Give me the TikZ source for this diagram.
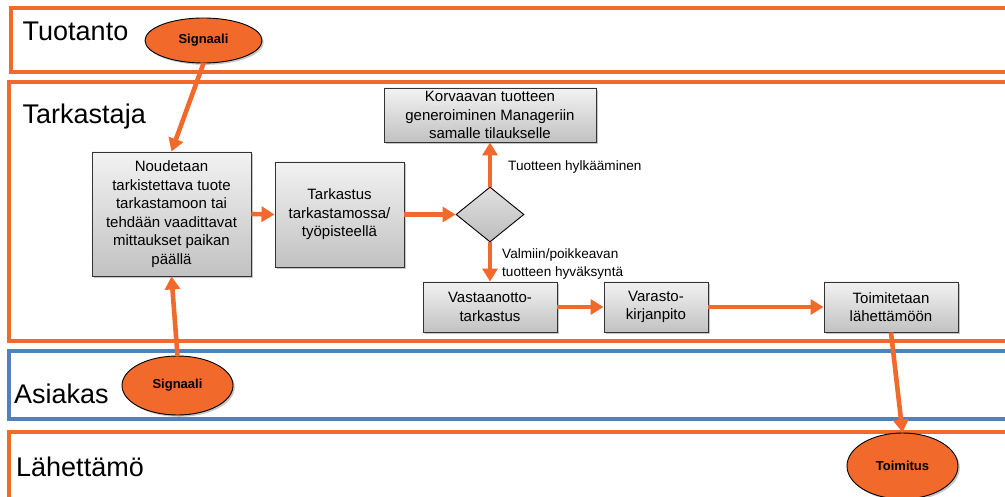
\documentclass[tikz,border=0pt]{standalone}
\usepackage{fontspec}
\setmainfont{Liberation Sans}
\usetikzlibrary{shapes.geometric,shadows,arrows.meta}
\definecolor{laneorange}{HTML}{F26A2B}
\definecolor{laneblue}{HTML}{4F81BD}
\begin{document}
\begin{tikzpicture}[x=1pt,y=-1pt,
  lane/.style={draw=laneorange,line width=3.2pt},
  bluelane/.style={draw=laneblue,line width=3.2pt},
  lanetitle/.style={anchor=base west,inner sep=0,font=\fontsize{27}{30}\selectfont},
  procbox/.style={draw=black!80,line width=0.9pt,rectangle,inner sep=0,align=center,
    top color=white!95!black,bottom color=white!76!black,
    drop shadow={shadow xshift=1.8pt,shadow yshift=-1.8pt,opacity=0.45},
    font=\fontsize{15}{18.5}\selectfont},
  decision/.style={draw=black,line width=0.9pt,diamond,inner sep=0,
    top color=white!88!black,bottom color=white!74!black},
  signal/.style={ellipse,draw=black,line width=0.9pt,fill=laneorange,inner sep=0,
    drop shadow={shadow xshift=1.8pt,shadow yshift=-1.8pt,opacity=0.45},
    font=\fontsize{13}{15}\selectfont\bfseries},
  flow/.style={draw=laneorange,line width=4.6pt,-{Triangle[length=13pt,width=15pt]}},
  flowlabel/.style={anchor=west,inner sep=0,align=left,font=\fontsize{13.6}{17.5}\selectfont}
]
\useasboundingbox (0,0) rectangle (1005,497);
\clip (0,0) rectangle (1005,497);

% swim lanes
\draw[lane] (11,8) rectangle (1020,72);
\draw[lane] (9,82) rectangle (1020,341);
\draw[bluelane] (9,351) rectangle (1020,419);
\draw[lane] (9,432) rectangle (1020,520);

\node[lanetitle] (tTuotanto) at (22.5,41) {Tuotanto};
\node[lanetitle] (tTarkastaja) at (22.5,124) {Tarkastaja};
\node[lanetitle] (tAsiakas) at (14,403) {Asiakas};
\node[lanetitle] (tLahettamo) at (16,476) {Lähettämö};

% process steps
\node[procbox,minimum width=159,minimum height=124] (nouto) at (171.5,214)
  {Noudetaan\\tarkistettava tuote\\tarkastamoon tai\\tehdään vaadittavat\\mittaukset paikan\\päällä};
\node[procbox,minimum width=129,minimum height=105] (tarkastus) at (339.5,214.5)
  {Tarkastus\\tarkastamossa/\\työpisteellä};
\node[procbox,minimum width=212,minimum height=54] (korvaava) at (490,115)
  {Korvaavan tuotteen\\generoiminen Manageriin\\samalle tilaukselle};
\node[decision,minimum width=68,minimum height=55,shape aspect=1.24] (paatos) at (490,214.5) {};
\node[procbox,minimum width=134,minimum height=50] (vastaanotto) at (490,307)
  {Vastaanotto-\\tarkastus};
\node[procbox,minimum width=104,minimum height=50] (varasto) at (656,307)
  {Varasto-\\kirjanpito};
\node[procbox,minimum width=134,minimum height=50] (lahetys) at (891,307)
  {Toimitetaan\\lähettämöön};

% signals
\node[signal,minimum width=117,minimum height=45] (sigTuotanto) at (203.5,40.5) {Signaali};
\node[signal,minimum width=111,minimum height=59] (sigAsiakas) at (177.5,385.5) {Signaali};
\node[signal,minimum width=111,minimum height=66] (toimitus) at (902.5,466) {Toimitus};

% connectors
\draw[flow] (sigTuotanto.south) -- (nouto.north);
\draw[flow] (sigAsiakas.north) -- (nouto.south);
\draw[flow] (nouto.east) -- (tarkastus.west);
\draw[flow] (tarkastus.east) -- (paatos.west);
\draw[flow] (paatos.north) -- (korvaava.south);
\draw[flow] (paatos.south) -- (vastaanotto.north);
\draw[flow] (vastaanotto.east) -- (varasto.west);
\draw[flow] (varasto.east) -- (lahetys.west);
\draw[flow] (lahetys.south) -- (toimitus.north);

\node[flowlabel] (hylkays) at (508,167) {Tuotteen hylkääminen};
\node[flowlabel] (hyvaksynta) at (502,264) {Valmiin/poikkeavan\\tuotteen hyväksyntä};
\end{tikzpicture}
\end{document}
